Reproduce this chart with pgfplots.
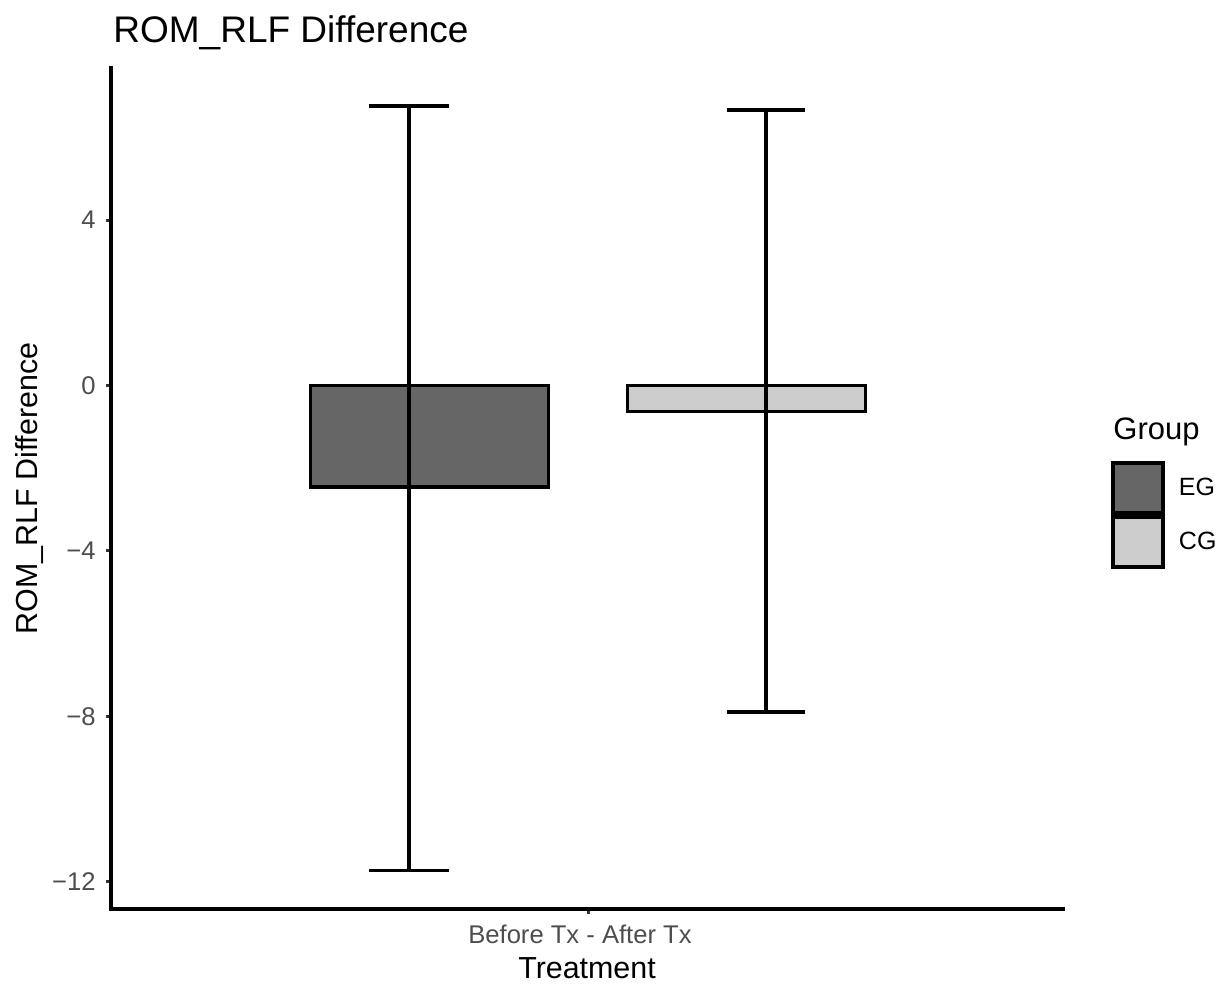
\documentclass[border=0pt]{standalone}
\usepackage{fontspec}
\setmainfont{Liberation Sans}
\usepackage{pgfplots}
\pgfplotsset{compat=1.18}
\definecolor{eg}{HTML}{666666}
\definecolor{cg}{HTML}{CCCCCC}
\definecolor{ticklab}{HTML}{4D4D4D}
\definecolor{tickc}{HTML}{333333}
\begin{document}
\begin{tikzpicture}
\begin{axis}[
  scale only axis, width=476pt, height=420.5pt,
  xmin=-4.77, xmax=4.75, ymin=-12.66, ymax=7.68,
  axis lines*=left,
  axis line style={line width=1.8pt, black, line cap=rect},
  clip=false,
  xtick={0}, xticklabels={Before Tx - After Tx},
  ytick={-12,-8,-4,0,4}, yticklabels={−12,−8,−4,0,4},
  tick align=outside, major tick length=2.5pt,
  tick style={line width=1.5pt, color=tickc},
  ticklabel style={font=\fontsize{12.8}{14}\selectfont, text=ticklab},
  yticklabel style={inner sep=0pt, anchor=east, xshift=-5pt},
  xticklabel style={inner sep=0pt, anchor=base, yshift=-14.5pt, xshift=-4pt},
  xlabel={Treatment},
  xlabel style={at={(axis description cs:0.5,0)}, anchor=base, yshift=-34.5pt, inner sep=0pt, font=\fontsize{15.2}{18}\selectfont},
  title={ROM\_RLF Difference},
  title style={at={(axis description cs:0,1)}, anchor=base west, xshift=1pt, yshift=6.5pt, inner sep=0pt, font=\fontsize{18.5}{22}\selectfont},
  legend style={at={(rel axis cs:1.0504,0.5327)}, anchor=north west, draw=none, fill=none, inner sep=0pt, row sep=0pt, column sep=7pt, font=\fontsize{12.5}{14}\selectfont, nodes={inner sep=0pt}},
  legend cell align=left,
]
\addplot[ybar, bar width=2.38, bar shift=0, fill=eg, draw=black, line width=1.8pt,
  legend image code/.code={\draw[fill=eg, draw=black, line width=1.8pt] (0pt,-12.5pt) rectangle (25pt,12.5pt);}]
  coordinates {(-1.585,-2.45)};
\addlegendentry{EG}
\addplot[ybar, bar width=2.38, bar shift=0, fill=cg, draw=black, line width=1.8pt,
  legend image code/.code={\draw[fill=cg, draw=black, line width=1.8pt] (0pt,-12.5pt) rectangle (25pt,12.5pt);}]
  coordinates {(1.585,-0.63)};
\addlegendentry{CG}
% error bars EG
\addplot[forget plot, black, line width=1.8pt] coordinates {(-1.79,-11.73) (-1.79,6.76)};
\addplot[forget plot, black, line width=1.8pt] coordinates {(-2.19,6.76) (-1.39,6.76)};
\addplot[forget plot, black, line width=1.8pt] coordinates {(-2.19,-11.73) (-1.39,-11.73)};
% error bars CG
\addplot[forget plot, black, line width=1.8pt] coordinates {(1.78,-7.89) (1.78,6.67)};
\addplot[forget plot, black, line width=1.8pt] coordinates {(1.39,6.67) (2.17,6.67)};
\addplot[forget plot, black, line width=1.8pt] coordinates {(1.39,-7.89) (2.17,-7.89)};
\node[anchor=west, inner sep=0pt, font=\fontsize{15.5}{18}\selectfont] at (rel axis cs:1.0525,0.5672) {Group};
\node[anchor=base, rotate=90, inner sep=0pt, font=\fontsize{15.2}{18}\selectfont] at ([xshift=-36.5pt]rel axis cs:0,0.5) {ROM\_RLF Difference};
\coordinate (O) at (rel axis cs:0,0);
\end{axis}
\pgfresetboundingbox
\path (O) ++(-55.5pt,-38pt) rectangle ++(610pt,492.5pt);
\end{tikzpicture}
\end{document}
